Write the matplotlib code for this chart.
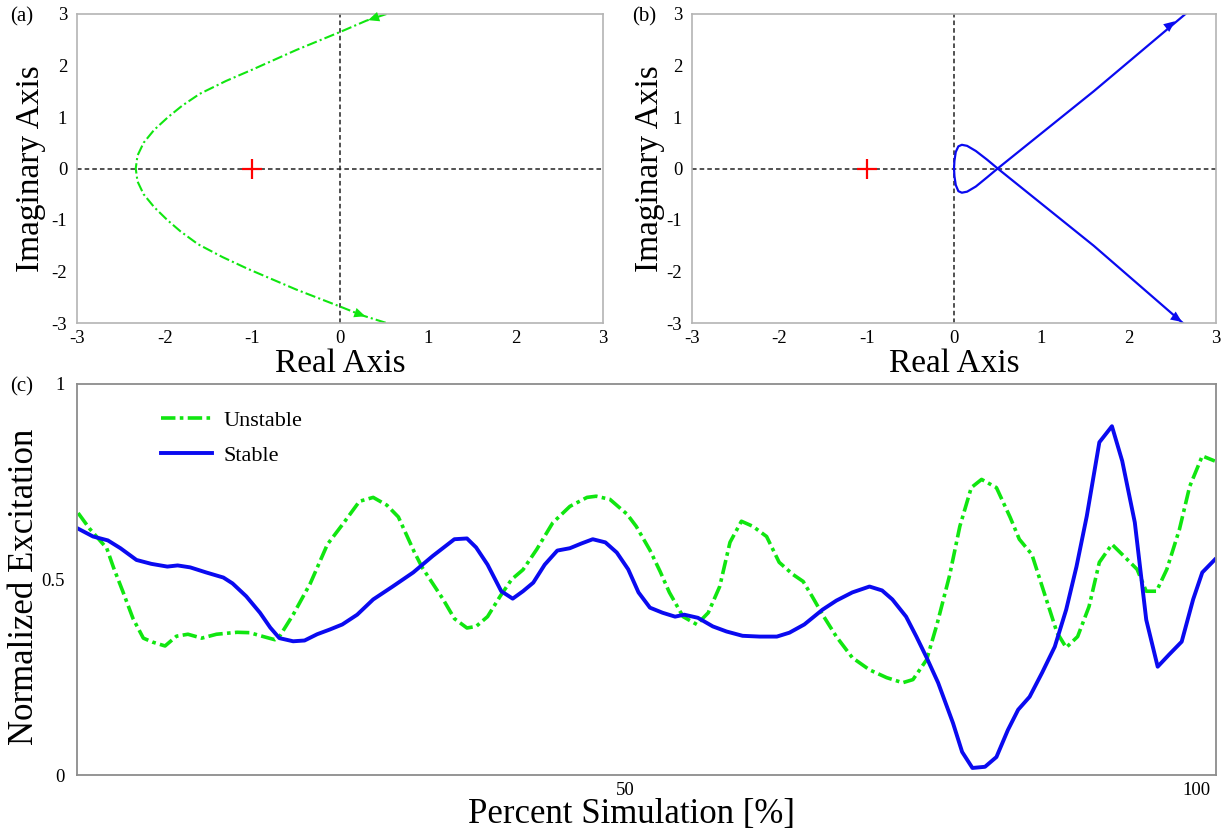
import matplotlib
matplotlib.use('Agg')
import matplotlib.pyplot as plt

plt.rcParams['font.family'] = ['Liberation Serif', 'DejaVu Serif']
plt.rcParams['axes.unicode_minus'] = False

# (a) unstable case
re_a = [0.53, 0.30, 0.00, -0.50, -1.00, -1.30, -1.60, -1.80, -1.96, -2.12, -2.24, -2.31, -2.33,
        -2.31, -2.24, -2.12, -1.97, -1.82, -1.62, -1.34, -1.05, -0.50, 0.00, 0.25, 0.53]
im_a = [3.00, 2.87, 2.65, 2.30, 1.92, 1.70, 1.45, 1.22, 1.00, 0.75, 0.50, 0.25, 0.00,
        -0.25, -0.50, -0.75, -1.00, -1.22, -1.47, -1.72, -1.95, -2.35, -2.68, -2.85, -3.00]
arrows_a = [((0.46, 2.96), (0.32, 2.88)), ((0.14, -2.78), (0.29, -2.87))]

# (b) stable case
re_b = [2.65, 1.60, 0.50, 0.38, 0.25, 0.15, 0.09, 0.05, 0.02, 0.005, 0.00,
        0.005, 0.02, 0.05, 0.09, 0.15, 0.25, 0.38, 0.50, 1.60, 2.62]
im_b = [3.00, 1.50, 0.00, -0.17, -0.35, -0.45, -0.47, -0.44, -0.32, -0.15, 0.00,
        0.15, 0.32, 0.43, 0.46, 0.44, 0.34, 0.17, 0.00, -1.50, -3.00]
arrows_b = [((2.38, 2.66), (2.53, 2.86)), ((2.46, -2.80), (2.61, -2.98))]

critical = (-1, 0)

# (c) excitation over the simulation
x_unstable = [2.2, 3.2, 4.7, 5.3, 6.1, 7.0, 7.9, 8.7, 9.8, 10.8, 11.8, 13.0, 14.3, 16.1,
              17.2, 18.4, 19.4, 19.8, 21.0, 22.5, 24.0, 25.3, 26.8, 28.0, 29.2, 30.2,
              30.9, 31.6, 32.3, 33.2, 34.1, 35.1, 36.2, 37.0, 38.0, 39.1, 40.1, 41.1,
              42.3, 43.7, 45.2, 46.7, 47.5, 48.7, 50.2, 51.0, 52.2, 53.1, 53.9, 55.1,
              56.3, 57.3, 58.3, 59.2, 60.2, 61.2, 62.4, 63.5, 64.7, 65.6, 66.4, 67.3,
              68.5, 69.9, 71.4, 72.9, 74.3, 75.2, 76.4, 77.3, 78.4, 79.3, 80.3, 81.2,
              82.5, 83.7, 84.5, 85.6, 86.5, 87.8, 88.6, 89.6, 90.6, 91.5, 92.6, 93.5,
              94.8, 95.6, 96.5, 97.4, 98.5, 99.4, 100.5, 101.6]
y_unstable = [0.67, 0.63, 0.58, 0.53, 0.47, 0.40, 0.35, 0.34, 0.33, 0.355, 0.36, 0.35, 0.36, 0.365,
              0.364, 0.354, 0.346, 0.354, 0.41, 0.49, 0.59, 0.64, 0.70, 0.71, 0.69, 0.66,
              0.615, 0.57, 0.53, 0.49, 0.45, 0.40, 0.376, 0.38, 0.405, 0.457, 0.50, 0.525,
              0.577, 0.645, 0.687, 0.71, 0.713, 0.705, 0.667, 0.636, 0.575, 0.52, 0.467, 0.405,
              0.385, 0.415, 0.482, 0.595, 0.649, 0.636, 0.61, 0.544, 0.513, 0.495, 0.456, 0.41,
              0.354, 0.30, 0.269, 0.249, 0.236, 0.244, 0.295, 0.385, 0.51, 0.636, 0.735, 0.756,
              0.735, 0.659, 0.603, 0.564, 0.482, 0.364, 0.326, 0.354, 0.431, 0.544, 0.59, 0.564,
              0.526, 0.47, 0.47, 0.526, 0.628, 0.738, 0.816, 0.803]

x_stable = [2.2, 3.5, 4.8, 5.9, 7.3, 8.6, 10.0, 10.9, 12.0, 13.4, 14.9, 15.7, 16.9, 18.1,
            19.0, 19.8, 21.0, 22.0, 23.1, 24.2, 25.3, 26.6, 28.0, 29.7, 31.5, 33.2, 35.1,
            36.2, 37.0, 38.0, 39.2, 40.2, 41.1, 42.0, 43.0, 44.1, 45.2, 46.2, 47.2, 48.3,
            49.3, 50.3, 51.2, 52.2, 53.3, 54.4, 55.2, 56.4, 57.7, 58.9, 60.3, 61.8, 63.3,
            64.4, 65.7, 67.3, 68.5, 69.9, 71.4, 72.5, 73.4, 74.6, 75.5, 76.4, 77.4, 78.7,
            79.5, 80.4, 81.5, 82.5, 83.5, 84.4, 85.4, 86.5, 87.6, 88.6, 89.5, 90.4, 91.5,
            92.6, 93.5, 94.6, 95.6, 96.6, 97.6, 98.7, 99.7, 100.5, 101.6]
y_stable = [0.63, 0.61, 0.60, 0.58, 0.55, 0.54, 0.533, 0.536, 0.531, 0.518, 0.505, 0.49, 0.457, 0.415,
            0.377, 0.35, 0.342, 0.344, 0.36, 0.372, 0.385, 0.41, 0.449, 0.482, 0.518, 0.56, 0.603,
            0.605, 0.582, 0.538, 0.47, 0.451, 0.47, 0.492, 0.538, 0.574, 0.58, 0.592, 0.603, 0.595,
            0.569, 0.526, 0.467, 0.428, 0.415, 0.405, 0.41, 0.402, 0.38, 0.367, 0.356, 0.354, 0.354,
            0.364, 0.385, 0.423, 0.446, 0.467, 0.482, 0.472, 0.449, 0.405, 0.354, 0.30, 0.236, 0.133,
            0.059, 0.018, 0.021, 0.046, 0.115, 0.167, 0.20, 0.262, 0.328, 0.423, 0.533, 0.662, 0.851,
            0.892, 0.803, 0.646, 0.397, 0.277, 0.308, 0.341, 0.449, 0.518, 0.551]

green = '#10e610'
blue = '#0a0af0'
W, H = 1225, 832

fig = plt.figure(figsize=(12.25, 8.32), dpi=100)
ax_a = fig.add_axes([77 / W, 1 - 323 / H, 526 / W, 309 / H])
ax_b = fig.add_axes([692 / W, 1 - 323 / H, 524 / W, 309 / H])
ax_c = fig.add_axes([77 / W, 1 - 775 / H, 1139 / W, 391 / H])


def nyquist_panel(ax, re, im, arrows, color, ls, lw, ylab_x):
    ax.axhline(0, color='#222222', lw=1.1, ls=(0, (3, 2)))
    ax.axvline(0, color='#222222', lw=1.1, ls=(0, (3, 2)))
    ax.plot(re, im, color=color, ls=ls, lw=lw)
    for tail, head in arrows:
        ax.annotate('', xy=head, xytext=tail,
                    arrowprops=dict(arrowstyle='-|>,head_length=0.5,head_width=0.22',
                                    color=color, lw=0, shrinkA=0, shrinkB=0,
                                    mutation_scale=16))
    ax.plot(*critical, marker='+', ms=14, mew=1.6, color='red')
    ax.set_xlim(-3, 3)
    ax.set_ylim(-3, 3)
    ax.set_xticks([-3, -2, -1, 0, 1, 2, 3])
    ax.set_yticks([-3, -2, -1, 0, 1, 2, 3])
    ax.tick_params(length=0, labelsize=13.5)
    ax.tick_params(axis='y', pad=7)
    ax.tick_params(axis='x', pad=5)
    for s in ax.spines.values():
        s.set_color('#b4b4b4')
        s.set_linewidth(1.2)
    ax.set_xlabel('Real Axis', fontsize=24)
    ax.set_ylabel('Imaginary Axis', fontsize=24)
    ax.xaxis.set_label_coords(0.5, -0.081)
    ax.yaxis.set_label_coords(ylab_x, 0.5)


nyquist_panel(ax_a, re_a, im_a, arrows_a, green, (0, (5, 1.5, 1, 1.5)), 1.5, -0.059)
nyquist_panel(ax_b, re_b, im_b, arrows_b, blue, '-', 1.6, -0.051)

ax_c.plot(x_unstable, y_unstable, color=green, lw=2.6, ls=(0, (4, 1.2, 1, 1.2)), label='Unstable')
ax_c.plot(x_stable, y_stable, color=blue, lw=2.8, label='Stable')
ax_c.set_xlim(2.1, 101.7)
ax_c.set_ylim(0, 1)
ax_c.set_xticks([50, 100])
ax_c.set_yticks([0, 0.5, 1])
ax_c.set_yticklabels(['0', '0.5', '1'])
ax_c.tick_params(length=0, labelsize=13.5)
ax_c.tick_params(axis='y', pad=9)
ax_c.tick_params(axis='x', pad=5)
for s in ax_c.spines.values():
    s.set_color('#8c8c8c')
    s.set_linewidth(1.3)
ax_c.set_xlabel('Percent Simulation [%]', fontsize=25)
ax_c.set_ylabel('Normalized Excitation', fontsize=25)
ax_c.xaxis.set_label_coords(0.487, -0.059)
ax_c.yaxis.set_label_coords(-0.032, 0.48)
ax_c.legend(loc='upper left', bbox_to_anchor=(0.0737, 0.932), frameon=False, fontsize=16,
            handlelength=2.3, handletextpad=0.5, labelspacing=0.65, borderpad=0, borderaxespad=0)

fig.text(10 / W, 1 - 7 / H, '(a)', fontsize=15, va='top', ha='left')
fig.text(632 / W, 1 - 7 / H, '(b)', fontsize=15, va='top', ha='left')
fig.text(10 / W, 1 - 377 / H, '(c)', fontsize=15, va='top', ha='left')

fig.savefig('out.png', dpi=100)
